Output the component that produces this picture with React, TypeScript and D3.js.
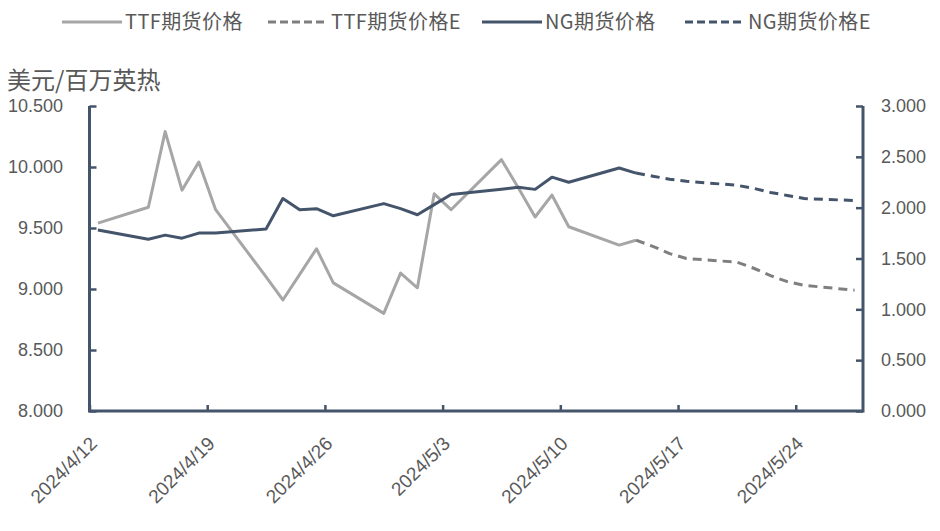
import * as d3 from "d3";
import { useEffect, useRef } from "react";

// actual trading days
const actualDates = [
	"2024-04-12", "2024-04-15", "2024-04-16", "2024-04-17", "2024-04-18", "2024-04-19",
	"2024-04-22", "2024-04-23", "2024-04-24", "2024-04-25", "2024-04-26",
	"2024-04-29", "2024-04-30", "2024-05-01", "2024-05-02", "2024-05-03",
	"2024-05-06", "2024-05-07", "2024-05-08", "2024-05-09", "2024-05-10",
	"2024-05-13", "2024-05-14",
];
const ttfValues = [
	9.54, 9.67, 10.29, 9.81, 10.04, 9.65,
	9.1, 8.91, 9.12, 9.33, 9.05,
	8.8, 9.13, 9.01, 9.78, 9.65,
	10.06, 9.83, 9.59, 9.77, 9.51,
	9.36, 9.4,
];
const ngValues = [
	1.78, 1.69, 1.73, 1.7, 1.75, 1.75,
	1.79, 2.09, 1.98, 1.99, 1.92,
	2.04, 1.99, 1.93, 2.03, 2.13,
	2.18, 2.2, 2.18, 2.3, 2.25,
	2.39, 2.34,
];

// forecast days
const forecastDates = [
	"2024-05-14", "2024-05-15", "2024-05-16", "2024-05-17",
	"2024-05-20", "2024-05-21", "2024-05-22", "2024-05-23", "2024-05-24",
	"2024-05-27",
];
const ttfForecast = [9.4, 9.35, 9.29, 9.25, 9.22, 9.17, 9.11, 9.06, 9.03, 8.99];
const ngForecast = [2.34, 2.31, 2.28, 2.26, 2.22, 2.19, 2.15, 2.12, 2.09, 2.07];

const leftTicks = [8, 8.5, 9, 9.5, 10, 10.5];
const rightTicks = [0, 0.5, 1, 1.5, 2, 2.5, 3];

const legendItems = [
	{ name: "TTF期货价格", color: "#a6a6a6", dash: "" },
	{ name: "TTF期货价格E", color: "#7f7f7f", dash: "8,4" },
	{ name: "NG期货价格", color: "#44546a", dash: "" },
	{ name: "NG期货价格E", color: "#44546a", dash: "8,4" },
];

const AXIS = "#44546a";
const LABEL = "#595959";
const NUM_FONT = "'Liberation Sans', Arial, sans-serif";
const CJK_FONT = "'Noto Sans CJK SC', 'Liberation Sans', sans-serif";

function parseDay(s: string) {
	const [y, m, d] = s.split("-").map(Number);
	return new Date(y, m - 1, d);
}

export default function App() {
	const ref = useRef<SVGSVGElement>(null);

	useEffect(() => {
		const svg = d3.select(ref.current);
		svg.selectAll("*").remove();

		const margin = { left: 89.5, right: 77, top: 106, bottom: 120 };
		const width = 940;
		const height = 531;
		const x0 = margin.left;
		const x1 = width - margin.right;
		const y0 = height - margin.bottom;
		const y1 = margin.top;

		const start = new Date(2024, 3, 12);
		const end = new Date(2024, 4, 28);
		const x = d3.scaleTime().domain([start, end]).range([x0, x1]);
		const yL = d3.scaleLinear().domain([8, 10.5]).range([y0, y1]);
		const yR = d3.scaleLinear().domain([0, 3]).range([y0, y1]);

		// points sit in the middle of their day
		const mid = (s: string) => d3.timeHour.offset(parseDay(s), 12);

		const g = svg.append("g");

		// left axis
		const leftAxis = d3
			.axisRight(yL)
			.tickValues(leftTicks)
			.tickSize(7)
			.tickFormat(() => "");
		g.append("g")
			.attr("transform", `translate(${x0},0)`)
			.call(leftAxis)
			.call((a) => a.select(".domain").remove())
			.selectAll("line")
			.attr("stroke", AXIS)
			.attr("stroke-width", 2.5);
		g.selectAll(".ltick")
			.data(leftTicks)
			.enter()
			.append("text")
			.attr("x", 63)
			.attr("y", (d) => yL(d))
			.attr("dy", "0.35em")
			.attr("text-anchor", "end")
			.attr("font-family", NUM_FONT)
			.attr("font-size", 18)
			.attr("fill", LABEL)
			.text((d) => d3.format(".3f")(d));

		// right axis
		const rightAxis = d3
			.axisLeft(yR)
			.tickValues(rightTicks)
			.tickSize(7)
			.tickFormat(() => "");
		g.append("g")
			.attr("transform", `translate(${x1},0)`)
			.call(rightAxis)
			.call((a) => a.select(".domain").remove())
			.selectAll("line")
			.attr("stroke", AXIS)
			.attr("stroke-width", 2.5);
		g.selectAll(".rtick")
			.data(rightTicks)
			.enter()
			.append("text")
			.attr("x", 881)
			.attr("y", (d) => yR(d))
			.attr("dy", "0.35em")
			.attr("text-anchor", "start")
			.attr("font-family", NUM_FONT)
			.attr("font-size", 18)
			.attr("fill", LABEL)
			.text((d) => d3.format(".3f")(d));

		// bottom axis
		const weekTicks = d3.timeDay.range(start, end, 7);
		const bottomAxis = d3
			.axisTop(x)
			.tickValues(weekTicks)
			.tickSize(6)
			.tickFormat(() => "");
		g.append("g")
			.attr("transform", `translate(0,${y0})`)
			.call(bottomAxis)
			.call((a) => a.select(".domain").remove())
			.selectAll("line")
			.attr("stroke", AXIS)
			.attr("stroke-width", 2.5);
		const fmt = d3.timeFormat("%Y/%-m/%-d");
		g.selectAll(".xtick")
			.data(weekTicks)
			.enter()
			.append("text")
			.attr("transform", (d) => `translate(${x(d) + 4},${y0 + 29}) rotate(-45)`)
			.attr("text-anchor", "end")
			.attr("dy", "0.35em")
			.attr("font-family", NUM_FONT)
			.attr("font-size", 19)
			.attr("fill", LABEL)
			.text((d) => fmt(d));

		// frame lines (left, bottom, right)
		g.append("path")
			.attr("d", `M${x0},${y1}V${y0}H${x1}V${y1}`)
			.attr("fill", "none")
			.attr("stroke", AXIS)
			.attr("stroke-width", 3);

		// series
		const lineL = d3
			.line<[Date, number]>()
			.x((d) => x(d[0]))
			.y((d) => yL(d[1]));
		const lineR = d3
			.line<[Date, number]>()
			.x((d) => x(d[0]))
			.y((d) => yR(d[1]));

		const ttf = actualDates.map((d, i) => [mid(d), ttfValues[i]] as [Date, number]);
		const ttfE = forecastDates.map((d, i) => [mid(d), ttfForecast[i]] as [Date, number]);
		const ng = actualDates.map((d, i) => [mid(d), ngValues[i]] as [Date, number]);
		const ngE = forecastDates.map((d, i) => [mid(d), ngForecast[i]] as [Date, number]);

		g.append("path")
			.attr("d", lineL(ttf))
			.attr("fill", "none")
			.attr("stroke", legendItems[0].color)
			.attr("stroke-width", 3)
			.attr("stroke-linejoin", "round");
		g.append("path")
			.attr("d", lineL(ttfE))
			.attr("fill", "none")
			.attr("stroke", legendItems[1].color)
			.attr("stroke-width", 3)
			.attr("stroke-dasharray", "9,6");
		g.append("path")
			.attr("d", lineR(ng))
			.attr("fill", "none")
			.attr("stroke", legendItems[2].color)
			.attr("stroke-width", 3)
			.attr("stroke-linejoin", "round");
		g.append("path")
			.attr("d", lineR(ngE))
			.attr("fill", "none")
			.attr("stroke", legendItems[3].color)
			.attr("stroke-width", 3)
			.attr("stroke-dasharray", "9,6");

		// unit label
		svg.append("text")
			.attr("x", 7)
			.attr("y", 81)
			.attr("dy", "0.35em")
			.attr("font-family", CJK_FONT)
			.attr("font-size", 24)
			.attr("fill", LABEL)
			.text("美元/百万英热");

		// legend
		const legendX = [62, 268, 482, 685];
		const leg = svg
			.selectAll(".legend")
			.data(legendItems)
			.enter()
			.append("g")
			.attr("transform", (d, i) => `translate(${legendX[i]},22)`);
		leg.append("line")
			.attr("x1", 0)
			.attr("x2", 60)
			.attr("stroke", (d) => d.color)
			.attr("stroke-width", 3)
			.attr("stroke-dasharray", (d) => d.dash || null);
		leg.append("text")
			.attr("x", 63)
			.attr("dy", "0.35em")
			.attr("font-family", CJK_FONT)
			.attr("font-size", 20)
			.attr("letter-spacing", 0.4)
			.attr("fill", LABEL)
			.text((d) => d.name);
	}, []);

	return (
		<svg
			ref={ref}
			width={940}
			height={531}
			style={{ position: "absolute", left: 0, top: 0, background: "#fff" }}
		/>
	);
}
